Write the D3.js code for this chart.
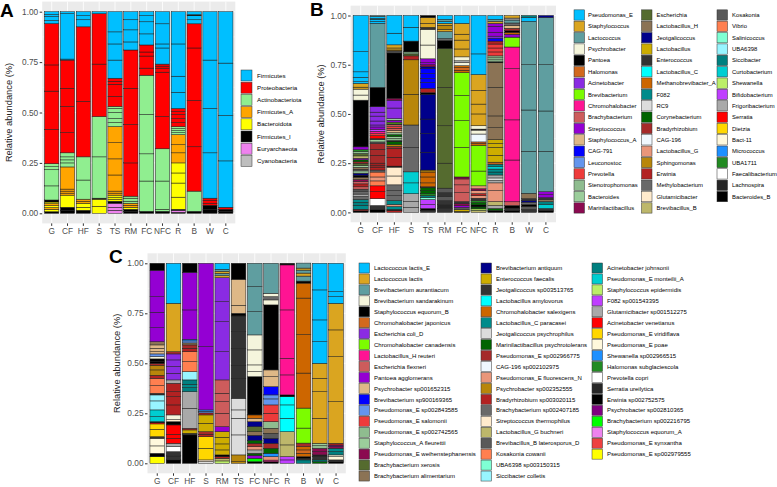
<!DOCTYPE html>
<html><head><meta charset="utf-8">
<script src="https://cdn.jsdelivr.net/npm/d3@7"></script>
<style>body{margin:0;background:#fff}svg{display:block;font-family:"Liberation Sans",Arial,sans-serif}</style>
</head><body><svg id="c" width="777" height="487"></svg>
<script>
const samplesAB = ["G","CF","HF","S","TS","RM","FC","NFC","R","B","W","C"];
const samplesC  = ["G","CF","HF","S","RM","TS","FC","NFC","R","B","W","C"];
const yTicks = [0,0.25,0.5,0.75,1];

const phylumNames = ["Firmicutes","Proteobacteria","Actinobacteriota","Firmicutes_A","Bacteroidota","Firmicutes_I","Euryarchaeota","Cyanobacteria"];
const phylumColors = ["#00BFFF","#FF0000","#90EE90","#FFA500","#FFFF00","#000000","#EE82EE","#BEBEBE"];

const palette = ["#00BFFF","#DAA520","#5F9EA0","#F5F5DC","#000000","#D2691E","#8A2BE2","#7CFC00","#FF1493","#CD5C5C",
"#9400D3","#DEB887","#0000FF","#6495ED","#EE3B3B","#8FBC8F","#9BCD9B","#8B0A50","#556B2F","#8B7355",
"#00008B","#CDAD00","#333333","#00FFFF","#CD6600","#008B8B","#DCDCDC","#006400","#A52A2A","#F0F8FF",
"#E9967A","#B8860B","#B22222","#696969","#FFEBCD","#BDB76B","#595959","#FF7F50","#7FFFD4","#98F5FF",
"#008080","#00CED1","#BCEE68","#BF3EFF","#A9A9A9","#FF0000","#FFD700","#FFF8DC","#1E90FF","#228B22",
"#FFFFFF","#262626","#000000","#800080","#00FF00","#EE82EE","#EE4040","#FFFF00"];

const genusNames = ["Pseudomonas_E","Staphylococcus","Lactococcus","Psychrobacter","Pantoea","Halomonas","Acinetobacter","Brevibacterium","Chromohalobacter","Brachybacterium","Streptococcus","Staphylococcus_A","CAG-791","Leuconostoc","Prevotella","Stenotrophomonas","Bacteroides","Marinilactibacillus",
"Escherichia","Lactobacillus_H","Jeotgalicoccus","Lactobacillus","Enterococcus","Lactobacillus_C","Methanobrevibacter_A","F082","RC9","Corynebacterium","Bradyrhizobium","CAG-196","Lactobacillus_G","Sphingomonas","Erwinia","Methylobacterium","Glutamicibacter","Brevibacillus_B",
"Kosakonia","Vibrio","Salinicoccus","UBA6398","Siccibacter","Curtobacterium","Shewanella","Bifidobacterium","Frigoribacterium","Serratia","Dietzia","Bact-11","Micrococcus","UBA1711","Faecalibacterium","Lachnospira","Bacteroides_B"];

const speciesNames = ["Lactococcus lactis_E","Lactococcus lactis","Brevibacterium aurantiacum","Brevibacterium sandarakinum","Staphylococcus equorum_B","Chromohalobacter japonicus","Escherichia coli_D","Chromohalobacter canadensis","Lactobacillus_H reuteri","Escherichia flexneri","Pantoea agglomerans","Psychrobacter sp001652315","Brevibacterium sp900169365","Pseudomonas_E sp002843585","Pseudomonas_E salomonii","Pseudomonas_E sp002742565","Staphylococcus_A fleurettii","Pseudomonas_E weihenstephanensis","Brachybacterium xerosis","Brachybacterium alimentarium",
"Brevibacterium antiquum","Enterococcus faecalis","Jeotgalicoccus sp003513765","Lactobacillus amylovorus","Chromohalobacter salexigens","Lactobacillus_C paracasei","Jeotgalicoccus psychrophilus","Marinilactibacillus psychrotolerans","Pseudomonas_E sp002966775","CAG-196 sp002102975","Pseudomonas_E fluorescens_N","Psychrobacter sp002352555","Bradyrhizobium sp003020115","Brachybacterium sp002407185","Streptococcus thermophilus","Lactobacillus_G buchneri","Brevibacillus_B laterosporus_D","Kosakonia cowanii","UBA6398 sp003150315","Siccibacter colletis",
"Acinetobacter johnsonii","Pseudomonas_E monteilii_A","Staphylococcus epidermidis","F082 sp001543395","Glutamicibacter sp001512275","Acinetobacter venetianus","Pseudomonas_E viridiflava","Pseudomonas_E poae","Shewanella sp002966515","Halomonas subglaciescola","Prevotella copri","Serratia ureilytica","Erwinia sp002752575","Psychrobacter sp002810365","Brachybacterium sp002216795","Staphylococcus equorum_A","Pseudomonas_E synxantha","Pseudomonas_E sp002979555"];

// stacked segments, bottom to top: [taxon index, relative abundance]
const phylumStacks = [
[[5,.008],[4,.012],[3,.008],[4,.01],[3,.01],[4,.008],[5,.01],[2,.07],[2,.08],[2,.015],[2,.015],[1,.17],[1,.19],[1,.13],[1,.205],[0,.015],[0,.02],[0,.01],[0,.014]],
[[5,.015],[5,.015],[4,.06],[3,.01],[3,.01],[3,.01],[3,.11],[2,.02],[2,.015],[2,.015],[2,.02],[1,.10],[1,.13],[1,.09],[1,.14],[0,.005],[0,.225],[0,.01]],
[[5,.015],[4,.015],[4,.02],[3,.01],[3,.01],[2,.095],[2,.115],[1,.275],[1,.37],[0,.035],[0,.02],[0,.02]],
[[4,.035],[4,.035],[5,.005],[2,.205],[2,.2],[1,.26],[1,.25],[0,.01]],
[[6,.015],[6,.015],[6,.02],[5,.01],[4,.01],[4,.01],[4,.01],[3,.01],[3,.01],[3,.08],[3,.08],[3,.08],[3,.08],[2,.02],[2,.02],[2,.03],[2,.02],[2,.01],[1,.05],[1,.06],[1,.015],[1,.015],[0,.09],[0,.08],[0,.06],[0,.1]],
[[5,.01],[5,.01],[4,.01],[3,.01],[3,.01],[2,.01],[2,.015],[2,.01],[1,.165],[1,.19],[1,.18],[1,.19],[0,.04],[0,.06],[0,.05],[0,.04]],
[[5,.01],[2,.15],[2,.135],[2,.195],[2,.195],[1,.035],[1,.06],[1,.02],[1,.035],[0,.055],[0,.06],[0,.03],[0,.02]],
[[5,.01],[2,.01],[2,.14],[2,.16],[1,.16],[1,.22],[1,.02],[1,.01],[1,.01],[0,.08],[0,.02],[0,.10],[0,.06]],
[[5,.005],[6,.01],[5,.005],[4,.06],[4,.07],[4,.05],[4,.05],[3,.05],[3,.04],[3,.05],[2,.01],[2,.01],[2,.01],[2,.01],[1,.02],[1,.02],[1,.02],[1,.015],[1,.015],[0,.08],[0,.08],[0,.16],[0,.16]],
[[5,.01],[2,.1],[1,.22],[1,.23],[1,.26],[1,.12],[0,.02],[0,.02],[5,.005],[0,.015]],
[[5,.02],[5,.02],[1,.01],[1,.015],[1,.01],[0,.225],[0,.22],[0,.24],[0,.24]],
[[5,.01],[5,.01],[1,.01],[0,.23],[0,.225],[0,.26],[0,.255]]
];

const genusStacks = [
[[52,.008],[32,.008],[25,.02],[40,.015],[25,.015],[33,.015],[44,.012],[33,.015],[36,.01],[9,.012],[32,.015],[9,.012],[17,.01],[19,.012],[52,.01],[20,.01],[15,.012],[33,.008],[19,.01],[16,.01],[18,.01],[28,.008],[27,.01],[10,.008],[35,.012],[18,.012],[15,.01],[49,.01],[10,.014],[4,.237],[3,.026],[3,.03],[1,.01],[1,.019],[0,.009],[0,.022],[0,.028],[0,.102],[0,.184]],
[[52,.015],[22,.02],[50,.035],[45,.035],[45,.03],[37,.025],[30,.02],[37,.025],[33,.01],[32,.015],[28,.01],[32,.01],[28,.04],[28,.03],[28,.03],[36,.008],[16,.012],[22,.005],[45,.015],[14,.01],[8,.012],[43,.01],[10,.012],[6,.01],[6,.02],[6,.025],[6,.02],[6,.028],[4,.098],[2,.325],[0,.01],[0,.01],[40,.005],[0,.01],[2,.005]],
[[32,.01],[52,.005],[25,.015],[30,.01],[25,.02],[33,.025],[33,.025],[33,.03],[34,.045],[34,.045],[52,.005],[32,.045],[32,.045],[28,.01],[31,.01],[27,.015],[52,.005],[15,.01],[16,.01],[27,.01],[15,.01],[11,.012],[9,.01],[14,.008],[9,.01],[22,.005],[7,.008],[10,.01],[16,.008],[6,.054],[6,.04],[17,.01],[4,.23],[36,.01],[31,.005],[1,.01],[1,.016],[0,.059],[0,.09]],
[[44,.025],[44,.03],[44,.04],[41,.055],[41,.056],[33,.124],[33,.114],[31,.156],[31,.175],[32,.02],[18,.01],[15,.01],[4,.055],[0,.07],[0,.06]],
[[22,.01],[52,.01],[43,.02],[43,.025],[38,.01],[40,.01],[49,.01],[27,.015],[27,.015],[22,.005],[24,.02],[24,.03],[24,.025],[31,.01],[20,.09],[20,.095],[20,.074],[20,.126],[4,.008],[32,.022],[12,.03],[12,.02],[12,.025],[12,.025],[20,.01],[17,.01],[10,.01],[10,.02],[3,.07],[3,.08],[22,.01],[1,.02],[1,.03],[52,.01]],
[[22,.02],[51,.02],[22,.02],[36,.02],[22,.02],[36,.023],[18,.127],[18,.19],[18,.195],[18,.198],[4,.04],[33,.01],[2,.035],[1,.012],[31,.02],[1,.01],[0,.01],[2,.01],[0,.02]],
[[52,.005],[21,.01],[36,.01],[10,.01],[17,.01],[22,.01],[9,.045],[9,.04],[9,.03],[17,.01],[7,.15],[7,.136],[7,.128],[7,.116],[24,.012],[5,.013],[24,.01],[3,.015],[44,.01],[3,.02],[1,.04],[1,.045],[1,.03],[1,.055],[0,.04]],
[[35,.01],[42,.008],[27,.01],[52,.01],[27,.012],[49,.01],[22,.012],[30,.013],[32,.01],[30,.015],[17,.01],[30,.015],[7,.075],[7,.13],[24,.01],[5,.008],[29,.04],[3,.02],[52,.005],[3,.017],[1,.06],[1,.05],[1,.07],[1,.08],[0,.105],[0,.195]],
[[52,.01],[27,.01],[44,.015],[35,.02],[30,.055],[30,.04],[44,.012],[26,.013],[44,.015],[40,.015],[25,.015],[41,.012],[25,.013],[5,.01],[21,.035],[21,.04],[21,.02],[21,.02],[19,.06],[19,.06],[19,.145],[19,.125],[52,.005],[15,.01],[16,.01],[15,.01],[14,.02],[14,.02],[14,.02],[32,.015],[12,.015],[6,.01],[10,.02],[10,.03],[10,.015],[1,.01],[2,.01],[0,.02]],
[[52,.01],[22,.012],[4,.013],[9,.019],[8,.212],[8,.204],[8,.26],[8,.11],[7,.05],[10,.015],[24,.01],[4,.008],[28,.012],[11,.015],[33,.012],[2,.015],[44,.01],[1,.013]],
[[22,.015],[36,.015],[52,.01],[33,.012],[20,.008],[22,.01],[19,.027],[2,.213],[2,.21],[2,.23],[2,.22],[0,.02],[40,.01]],
[[52,.01],[22,.01],[41,.02],[40,.015],[19,.01],[22,.01],[10,.015],[10,.015],[2,.205],[2,.205],[2,.235],[2,.24],[20,.01]]
];

const speciesStacks = [
[[57,.033],[52,.017],[47,.037],[47,.038],[22,.008],[46,.037],[46,.027],[45,.006],[52,.005],[41,.025],[41,.034],[39,.045],[39,.03],[51,.008],[37,.038],[37,.037],[32,.015],[31,.027],[31,.023],[28,.01],[52,.008],[52,.014],[3,.012],[13,.013],[11,.011],[11,.017],[11,.017],[19,.016],[10,.07],[10,.077],[10,.078],[10,.132],[4,.035]],
[[52,.017],[22,.02],[22,.021],[50,.025],[44,.017],[45,.025],[45,.02],[45,.047],[52,.016],[34,.01],[3,.024],[32,.05],[32,.041],[32,.025],[32,.042],[44,.017],[6,.033],[6,.034],[6,.033],[6,.03],[28,.011],[1,.242],[0,.2]],
[[52,.142],[22,.008],[21,.017],[32,.008],[44,.1],[44,.083],[40,.02],[25,.017],[40,.022],[39,.041],[37,.05],[37,.05],[32,.017],[28,.017],[19,.01],[13,.01],[48,.008],[10,.147],[10,.188],[4,.045]],
[[26,.008],[34,.009],[46,.058],[46,.058],[32,.012],[28,.013],[21,.042],[21,.042],[32,.01],[13,.008],[48,.007],[10,.316],[10,.417]],
[[42,.012],[35,.013],[32,.008],[52,.009],[21,.025],[21,.03],[21,.033],[21,.028],[10,.025],[9,.067],[9,.058],[9,.042],[9,.067],[6,.141],[6,.15],[6,.10],[6,.12],[1,.01],[2,.012],[1,.01],[2,.01],[0,.03]],
[[31,.008],[31,.034],[26,.1],[26,.083],[26,.042],[26,.058],[22,.1],[22,.065],[22,.085],[22,.083],[22,.079],[52,.013],[11,.04],[11,.13],[4,.08]],
[[52,.008],[54,.017],[10,.015],[27,.01],[44,.017],[30,.016],[28,.017],[27,.015],[20,.025],[19,.018],[18,.025],[20,.025],[11,.017],[24,.017],[4,.191],[3,.025],[3,.034],[3,.075],[3,.075],[2,.116],[2,.125],[2,.117]],
[[52,.008],[8,.008],[30,.017],[48,.017],[27,.025],[28,.025],[20,.025],[36,.025],[19,.025],[15,.033],[14,.042],[14,.042],[13,.03],[13,.02],[12,.041],[11,.05],[11,.034],[4,.325],[3,.025],[33,.016],[3,.017],[2,.15]],
[[43,.017],[43,.016],[35,.059],[35,.066],[23,.067],[23,.067],[23,.041],[52,.009],[8,.1],[8,.083],[8,.242],[8,.225],[52,.008]],
[[40,.017],[22,.008],[52,.008],[24,.017],[5,.017],[24,.017],[28,.017],[7,.075],[7,.1],[24,.175],[24,.192],[24,.183],[24,.075],[52,.01],[2,.025],[1,.015],[2,.015],[1,.01],[2,.025]],
[[27,.008],[40,.009],[22,.016],[51,.009],[17,.016],[17,.017],[15,.013],[16,.012],[1,.125],[1,.133],[1,.067],[1,.075],[0,.108],[0,.109],[0,.15],[0,.133]],
[[52,.008],[22,.009],[47,.016],[3,.009],[40,.016],[25,.017],[17,.008],[53,.008],[32,.009],[1,.208],[1,.225],[1,.134],[1,.133],[0,.033],[0,.025],[0,.142]]
];

const svg = d3.select("#c");
const TXT = "#4D4D4D";

function panel(cfg){
  const g = svg.append("g");
  const y = d3.scaleLinear().domain([0,1]).range([cfg.y0, cfg.y1]);
  const x = d3.scaleBand().domain(cfg.samples).range([cfg.left, cfg.right]).paddingInner(0.1).paddingOuter(0.15);
  const top = y(1.05), bot = y(-0.05);
  g.append("rect").attr("x",cfg.left).attr("y",top).attr("width",cfg.right-cfg.left).attr("height",bot-top).attr("fill","#EBEBEB");
  [0.125,0.375,0.625,0.875].forEach(v=>g.append("line").attr("x1",cfg.left).attr("x2",cfg.right).attr("y1",y(v)).attr("y2",y(v)).attr("stroke","#fff").attr("stroke-width",0.4));
  yTicks.forEach(v=>g.append("line").attr("x1",cfg.left).attr("x2",cfg.right).attr("y1",y(v)).attr("y2",y(v)).attr("stroke","#fff").attr("stroke-width",0.8));
  cfg.samples.forEach(s=>g.append("line").attr("x1",x(s)+x.bandwidth()/2).attr("x2",x(s)+x.bandwidth()/2).attr("y1",top).attr("y2",bot).attr("stroke","#fff").attr("stroke-width",0.8));
  cfg.samples.forEach((s,i)=>{
    let acc = 0;
    const segs = cfg.stacks[i].map(([k,v])=>{const o={k,a:acc,b:acc+v}; acc+=v; return o;});
    g.append("g").selectAll("rect").data(segs).join("rect")
      .attr("x",x(s)).attr("width",x.bandwidth())
      .attr("y",d=>y(d.b)).attr("height",d=>Math.max(0,y(d.a)-y(d.b)))
      .attr("fill",d=>cfg.colors[d.k]).attr("stroke","#1a1a1a").attr("stroke-width",0.5);
  });
  const ya = g.append("g").attr("transform",`translate(${cfg.left},0)`)
    .call(d3.axisLeft(y).tickValues(yTicks).tickFormat(d3.format(".2f")).tickSize(2.5).tickPadding(1.5));
  ya.select(".domain").remove();
  ya.selectAll("line").attr("stroke","#333");
  ya.selectAll("text").attr("fill",TXT).style("font-size","8.3px").style("font-family","Liberation Sans, Arial");
  const xa = g.append("g").attr("transform",`translate(0,${bot})`)
    .call(d3.axisBottom(x).tickSize(2.5).tickPadding(2));
  xa.select(".domain").remove();
  xa.selectAll("line").attr("stroke","#333");
  xa.selectAll("text").attr("fill",TXT).style("font-size","8.3px").style("font-family","Liberation Sans, Arial");
  g.append("text").attr("transform",`translate(${cfg.titleX},${(cfg.y0+cfg.y1)/2}) rotate(-90)`)
    .attr("text-anchor","middle").attr("fill","#222").style("font-size","9.3px").text("Relative abundance (%)");
  g.append("text").attr("x",cfg.tagX).attr("y",cfg.tagY).style("font-size","19px").style("font-weight","bold").attr("fill","#000").text(cfg.tag);
}

function legend(names, colors, cols){
  const g = svg.append("g");
  cols.forEach(c=>{
    for(let i=c.from;i<c.to;i++){
      const cy = c.y + (i-c.from)*c.step;
      g.append("rect").attr("x",c.kx).attr("y",cy-c.ks/2).attr("width",c.kw).attr("height",c.ks)
        .attr("fill",colors[i]).attr("stroke","#333").attr("stroke-width",0.5);
      g.append("text").attr("x",c.tx).attr("y",cy).attr("dy","0.35em").attr("fill","#000")
        .style("font-size",c.fs+"px").text(names[i]);
    }
  });
}

panel({samples:samplesAB, stacks:phylumStacks, colors:phylumColors, left:42.2, right:235.3, y1:11.7, y0:213.3, titleX:12, tag:"A", tagX:0, tagY:17});
panel({samples:samplesAB, stacks:genusStacks, colors:palette, left:350.6, right:556, y1:15.5, y0:212.4, titleX:324, tag:"B", tagX:310, tagY:16});
panel({samples:samplesC, stacks:speciesStacks, colors:palette, left:147.5, right:345.8, y1:263.3, y0:463.3, titleX:120, tag:"C", tagX:109, tagY:263});

legend(phylumNames, phylumColors, [{from:0,to:8,y:75.5,step:12.2,kx:241,kw:11,ks:11,tx:257,fs:6.2}]);
legend(genusNames, palette, [
  {from:0,to:18,y:15,step:11.35,kx:574,kw:10.5,ks:10.3,tx:588,fs:5.9},
  {from:18,to:36,y:15,step:11.35,kx:641.5,kw:10.5,ks:10.3,tx:656.5,fs:5.9},
  {from:36,to:53,y:15,step:11.35,kx:717,kw:10.5,ks:10.3,tx:732,fs:5.9}
]);
legend(speciesNames, palette, [
  {from:0,to:20,y:268,step:10.95,kx:359,kw:10.5,ks:10,tx:374,fs:6},
  {from:20,to:40,y:268,step:10.95,kx:481,kw:10.5,ks:10,tx:496,fs:6},
  {from:40,to:58,y:268,step:10.95,kx:592,kw:10.5,ks:10,tx:607,fs:6}
]);
</script></body></html>
